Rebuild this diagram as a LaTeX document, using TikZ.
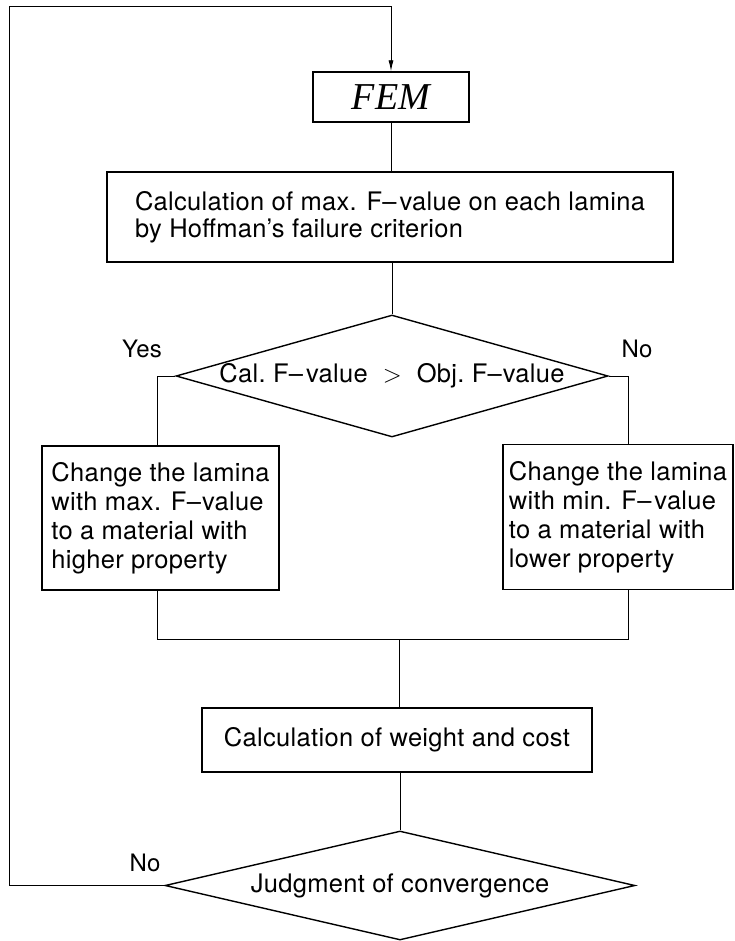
\documentclass[tikz,border=0pt]{standalone}
\usepackage{fontspec}
\setmainfont{TeX Gyre Heros}[LetterSpace=1.2]
\newfontfamily\femfont{Liberation Serif}
\usetikzlibrary{shapes.geometric,arrows.meta}
\begin{document}
\begin{tikzpicture}[x=1pt,y=-1pt,
  font=\fontsize{25.5}{29}\selectfont,
  box/.style={draw, line width=1.4pt, rectangle, inner sep=0pt, align=left},
  decision/.style={draw, line width=1.4pt, diamond, inner sep=0pt, aspect=3},
  flow/.style={line width=0.9pt},
  tag/.style={inner sep=0pt, anchor=base, font=\fontsize{24}{24}\selectfont}]
\useasboundingbox (0,0) rectangle (735,941);

% process blocks
\node[box, minimum width=156pt, minimum height=50pt] (fem) at (391,97)
  {\fontsize{38}{38}\femfont\itshape FEM};
\node[box, minimum width=566pt, minimum height=90pt,
  font=\fontsize{25.5}{26.6}\selectfont] (calc) at (390,217)
  {Calculation of max. F–\hspace{3pt}value on each lamina\\by Hoffman’s failure criterion};
\node[decision, minimum width=432pt, minimum height=122pt,
  label={center:Cal.\ F–\hspace{3pt}value\hspace{15pt}$>$\hspace{15pt}Obj.\ F–\hspace{1pt}value}] (cmp) at (392,376) {};
\node[box, minimum width=237pt, minimum height=144pt] (up) at (160.5,518)
  {Change the lamina\\with max. F–\hspace{1pt}value\\to a material with\\higher property};
\node[box, minimum width=230pt, minimum height=145pt] (down) at (618,517)
  {Change the lamina\\with min. F–\hspace{3pt}value\\to a material with\\lower property};
\node[box, minimum width=390pt, minimum height=64pt] (wc) at (397,740)
  {Calculation of weight and cost};
\node[decision, minimum width=470pt, minimum height=109pt,
  label={center:Judgment of convergence}] (conv) at (400,885.5) {};

% branch labels
\node[tag] (yes) at (142,357) {Yes};
\node[tag] (no) at (637,357) {No};
\node[tag] (noloop) at (145,871) {No};

% routing points
\coordinate (yturn) at (157,376);
\coordinate (nturn) at (628,376);
\coordinate (mleft) at (157,639);
\coordinate (mright) at (628,639);
\coordinate (mmid) at (399,639);
\coordinate (lbot) at (9,885.5);
\coordinate (ltop) at (9,6);
\coordinate (rtop) at (391,6);

% connectors
\draw[flow] (fem.south) -- (fem.south |- calc.north);
\draw[flow] (cmp.north) -- (cmp.north |- calc.south);
\draw[flow] (cmp.west) -- (yturn) -- (yturn |- up.north);
\draw[flow] (cmp.east) -- (nturn) -- (nturn |- down.north);
\draw[flow] (yturn |- up.south) -- (mleft) -- (mright) -- (nturn |- down.south);
\draw[flow] (mmid) -- (mmid |- wc.north);
\draw[flow] (conv.north) -- (conv.north |- wc.south);
\draw[flow, -{Latex[length=11pt,width=5pt]}] (conv.west) -- (lbot) -- (ltop) -- (rtop) -- (fem.north);
\end{tikzpicture}
\end{document}
